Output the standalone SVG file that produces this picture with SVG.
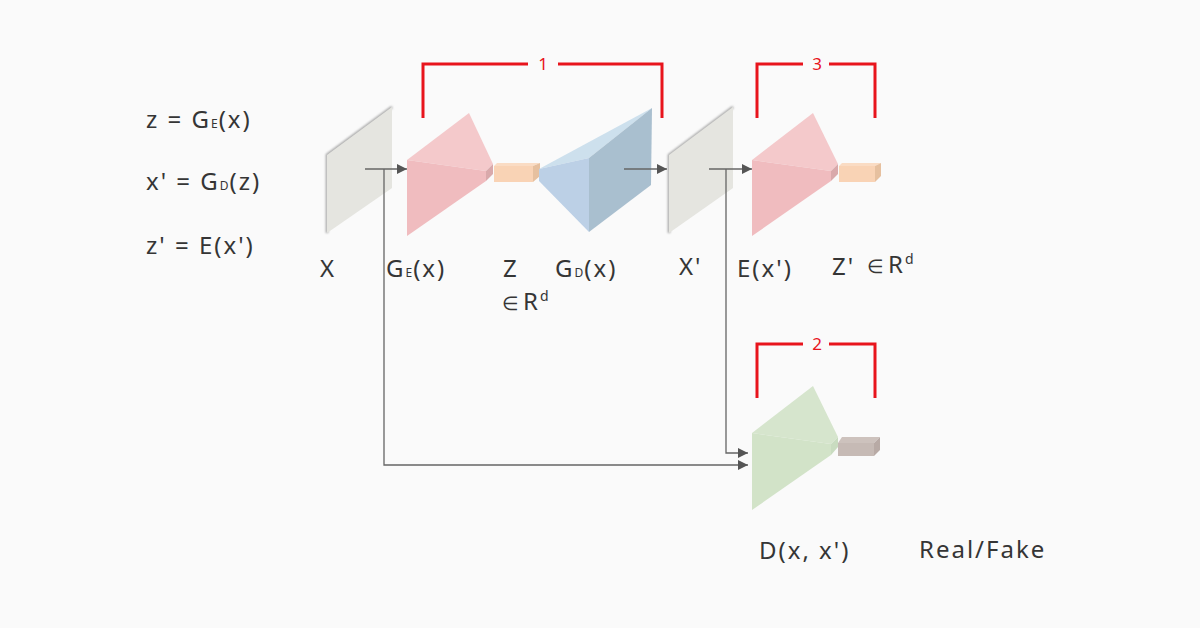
<svg xmlns="http://www.w3.org/2000/svg" width="1200" height="628" viewBox="0 0 1200 628">
<defs>
<style>
.t{font-family:"Noto Sans","Open Sans",sans-serif;font-size:24px;letter-spacing:2px;fill:#353535}
.s{font-size:12px;letter-spacing:1px}
.el{font-size:19px}
.sup{font-size:14px}
.num{font-family:"Noto Sans",sans-serif;font-size:17px;fill:#e8141c;text-anchor:middle}
.br{fill:none;stroke:#e8141c;stroke-width:3}
.ln{fill:none;stroke:#666;stroke-width:1.3}
.plane{fill:#e5e5e0}
.shadow{fill:none;stroke:#a2a2a2;stroke-width:2.5;filter:url(#blur)}
</style>
<filter id="blur" x="-20%" y="-20%" width="140%" height="140%"><feGaussianBlur stdDeviation="0.8"/></filter>
<marker id="arr" viewBox="0 0 10 10" refX="10" refY="5" markerWidth="10" markerHeight="10" markerUnits="userSpaceOnUse" orient="auto">
<path d="M0,0 L10,5 L0,10 z" fill="#555"/>
</marker>
</defs>
<rect width="1200" height="628" fill="#fafafa"/>

<g id="equations">
<text class="t" x="146" y="128">z = G<tspan class="s">E</tspan>(x)</text>
<text class="t" x="146" y="190">x' = G<tspan class="s">D</tspan>(z)</text>
<text class="t" x="146" y="254">z' = E(x')</text>
</g>

<g id="brackets">
<path class="br" d="M423,118 V64 H528 M558,64 H662 V118"/>
<text class="num" x="543" y="70">1</text>
<path class="br" d="M757,118 V64 H803 M829,64 H875 V118"/>
<text class="num" x="817" y="70">3</text>
<path class="br" d="M757,398 V344 H803 M829,344 H875 V398"/>
<text class="num" x="817" y="350">2</text>
</g>

<g id="node-x">
<polyline class="shadow" points="327,233 327,155 392,107"/>
<polygon class="plane" points="327,155 392,107 392,188 327,233"/>
<text class="t" x="320" y="277">X</text>
</g>

<g id="node-ge">
<polygon points="407,160 469,113 493,164 486,171" fill="#f4c9cb"/>
<polygon points="407,160 486,171 486,181 407,236" fill="#f0bcbf"/>
<polygon points="486,171 493,164 493,174 486,181" fill="#d9a9ab"/>
<text class="t" x="386" y="277">G<tspan class="s">E</tspan>(x)</text>
</g>

<g id="node-z">
<polygon points="494,166 497,163 540,163 533,166" fill="#fadcc4"/>
<rect x="494" y="166" width="39" height="16" fill="#f9d3b5"/>
<polygon points="533,166 540,163 540,176 533,182" fill="#e6c09f"/>
<text class="t" x="503" y="277">Z</text>
<text class="t" x="502" y="310"><tspan class="el">∈</tspan><tspan dx="2">R</tspan><tspan class="sup" dy="-9">d</tspan></text>
</g>

<g id="node-gd">
<polygon points="539,169 652,108 589,158" fill="#cde0ed"/>
<polygon points="539,169 589,158 589,232 539,181" fill="#bcd0e6"/>
<polygon points="589,158 652,108 651,185 589,232" fill="#a9bfcf"/>
<text class="t" x="555" y="277">G<tspan class="s">D</tspan>(x)</text>
</g>

<g id="node-xp">
<polyline class="shadow" points="669,233 669,155 733,107"/>
<polygon class="plane" points="669,155 733,107 733,188 669,233"/>
<text class="t" x="679" y="275">X'</text>
</g>

<g id="node-e">
<polygon points="752,160 813,113 838,164 831,171" fill="#f4c9cb"/>
<polygon points="752,160 831,171 831,181 752,236" fill="#f0bcbf"/>
<polygon points="831,171 838,164 838,174 831,181" fill="#d9a9ab"/>
<text class="t" x="737" y="277">E(x')</text>
</g>

<g id="node-zp">
<polygon points="839,166 842,163 881,163 875,166" fill="#fadcc4"/>
<rect x="839" y="166" width="36" height="16" fill="#f9d3b5"/>
<polygon points="875,166 881,163 881,176 875,182" fill="#e6c09f"/>
<text class="t" x="832" y="275">Z'</text>
<text class="t" x="867" y="273"><tspan class="el">∈</tspan><tspan dx="2">R</tspan><tspan class="sup" dy="-9">d</tspan></text>
</g>

<g id="node-d">
<polygon points="752,433 813,386 838,437 831,444" fill="#d6e5cd"/>
<polygon points="752,433 831,444 831,455 752,510" fill="#d2e3c8"/>
<polygon points="831,444 838,437 838,447 831,455" fill="#c9dcc0"/>
<text class="t" x="759" y="559">D(x, x')</text>
</g>

<g id="node-out">
<polygon points="838,443 842,437 880,437 874,443" fill="#cdc2bd"/>
<rect x="838" y="443" width="36" height="13" fill="#c6bab5"/>
<polygon points="874,443 880,437 880,450 874,456" fill="#b8aaa5"/>
<text class="t" x="919" y="558">Real/Fake</text>
</g>

<g id="connectors">
<line class="ln" x1="365" y1="169" x2="407" y2="169" marker-end="url(#arr)"/>
<line class="ln" x1="624" y1="169" x2="667" y2="169" marker-end="url(#arr)"/>
<line class="ln" x1="709" y1="169" x2="752" y2="169" marker-end="url(#arr)"/>
<polyline class="ln" points="384,169 384,465 748,465" marker-end="url(#arr)"/>
<polyline class="ln" points="726,169 726,453 748,453" marker-end="url(#arr)"/>
</g>
</svg>
